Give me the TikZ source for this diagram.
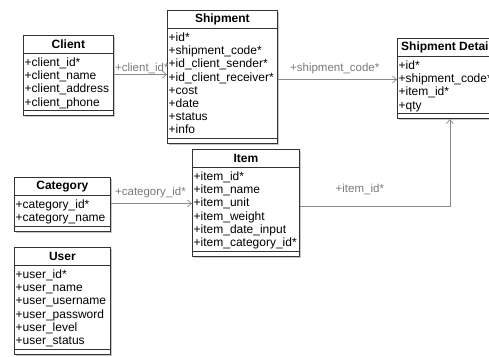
\documentclass[tikz,border=0pt]{standalone}
\usepackage{fontspec}
\setmainfont{Liberation Sans}
\usetikzlibrary{calc,arrows.meta,shadows}
\definecolor{boxdraw}{HTML}{333333}
\definecolor{conngray}{HTML}{8A8A8A}
\definecolor{lblgray}{HTML}{7A7A7A}
\tikzset{
  classbox/.style={draw=boxdraw, fill=white, line width=0.8pt, inner sep=0pt,
    drop shadow={shadow xshift=1.6pt, shadow yshift=-1.6pt, fill=black!22, opacity=1}},
  boxline/.style={draw=boxdraw, line width=0.8pt},
  headtxt/.style={inner sep=0pt, font=\fontsize{12}{13.2}\selectfont\bfseries},
  attrtxt/.style={inner sep=0pt, font=\fontsize{12}{13.2}\selectfont},
  conn/.style={draw=conngray, line width=0.7pt, -{Straight Barb[length=4pt,width=7pt]}},
  lbl/.style={inner sep=0pt, text=lblgray, font=\fontsize{11.5}{13}\selectfont}
}
\newcommand\umlclassbox[7]{%
  \pgfmathsetmacro\umlhh{18+#6*13.2+5+4.5}%
  \pgfmathsetmacro\umlsep{18+#6*13.2+5}%
  \node[classbox, minimum width=#4pt, minimum height=\umlhh pt, anchor=north west] (#1) at (#2,#3) {};
  \draw[boxline] ($(#1.north west)+(0,18)$) -- ($(#1.north east)+(0,18)$);
  \draw[boxline] ($(#1.north west)+(0,\umlsep)$) -- ($(#1.north east)+(0,\umlsep)$);
  \node[headtxt] (#1-h) at ($(#1.north)+(0,9.5)$) {#5};
  \foreach \a [count=\i] in {#7} {
    \node[attrtxt, anchor=base west] (#1-a\i) at ($(#1.north west)+(1.5,{18.3+\i*13.2})$) {\a};
  }
}
\begin{document}
\begin{tikzpicture}[x=1pt,y=-1pt]
\useasboundingbox (0,0) rectangle (489,356);
\clip (0,0) rectangle (489,356);
\fill[white] (0,0) rectangle (489,356);

\umlclassbox{client}{23}{35}{90}{Client}{4}{+client\_id*,+client\_name,+client\_address,+client\_phone}
\umlclassbox{shipment}{167}{10}{110}{Shipment}{8}{+id*,+shipment\_code*,+id\_client\_sender*,+id\_client\_receiver*,+cost,+date,+status,+info}
\umlclassbox{sd}{397}{38}{105}{Shipment Details}{4}{+id*,+shipment\_code*,+item\_id*,+qty}
\umlclassbox{item}{192}{149}{107}{Item}{6}{+item\_id*,+item\_name,+item\_unit,+item\_weight,+item\_date\_input,+item\_category\_id*}
\umlclassbox{category}{14}{177}{96}{Category}{2}{+category\_id*,+category\_name}
\umlclassbox{user}{14}{247}{96}{User}{6}{+user\_id*,+user\_name,+user\_username,+user\_password,+user\_level,+user\_status}

\coordinate (cs) at ($(client.east)+(0,-1)$);
\draw[conn] (cs) -- node[lbl, pos=0, anchor=base west, xshift=1pt, yshift=3pt] (l1) {+client\_id*} (cs -| shipment.west);
\coordinate (ss) at ($(shipment.east)+(0,2.5)$);
\draw[conn] (ss) -- node[lbl, pos=0, anchor=base west, xshift=12pt, yshift=8pt] (l2) {+shipment\_code*} (ss -| sd.west);
\coordinate (cc) at ($(category.east)+(0,-1)$);
\draw[conn] (cc) -- node[lbl, pos=0, anchor=base west, xshift=4pt, yshift=8pt] (l3) {+category\_id*} (cc -| item.west);
\coordinate (ii) at ($(item.east)+(0,3.5)$);
\draw[conn] (ii) -| node[lbl, pos=0.25, anchor=base, xshift=-15pt, yshift=14pt] (l4) {+item\_id*} (sd.south);
\end{tikzpicture}
\end{document}
